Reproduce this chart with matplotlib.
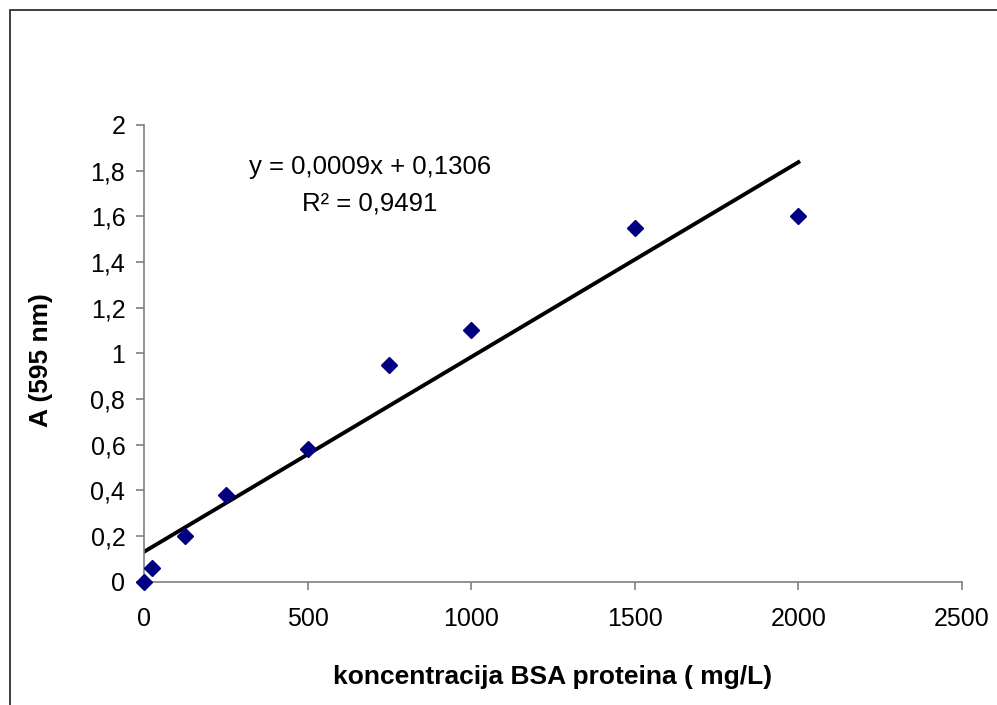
import numpy as np
import matplotlib
matplotlib.use('Agg')
import matplotlib.pyplot as plt
from matplotlib.patches import Rectangle

plt.rcParams['font.family'] = ['Liberation Sans', 'DejaVu Sans']

# BSA standard curve
konc = [0, 25, 125, 250, 500, 750, 1000, 1500, 2000]
apsorbancija = [0, 0.06, 0.2, 0.38, 0.58, 0.95, 1.1, 1.55, 1.6]

x_ticks = [0, 500, 1000, 1500, 2000, 2500]
x_tick_labels = ['0', '500', '1000', '1500', '2000', '2500']
y_ticks = [0, 0.2, 0.4, 0.6, 0.8, 1.0, 1.2, 1.4, 1.6, 1.8, 2.0]
y_tick_labels = ['0', '0,2', '0,4', '0,6', '0,8', '1', '1,2', '1,4', '1,6', '1,8', '2']

# linear trendline (as in Excel)
k, n = np.polyfit(konc, apsorbancija, 1)
x_fit = np.array([0, max(konc)])

W, H = 997, 705
fig = plt.figure(figsize=(W / 100, H / 100), dpi=100)
ax = fig.add_axes([144 / W, 1 - 581.5 / H, 818 / W, 456.5 / H])

ax.plot(x_fit, k * x_fit + n, color='black', lw=2.8, zorder=2)
ax.plot(konc, apsorbancija, linestyle='none', marker='D', ms=8.5,
        color='#000080', mec='#000080', zorder=3, clip_on=False)

ax.set_xlim(0, 2500)
ax.set_ylim(0, 2)
ax.set_xticks(x_ticks)
ax.set_xticklabels(x_tick_labels)
ax.set_yticks(y_ticks)
ax.set_yticklabels(y_tick_labels)

for s in ['top', 'right']:
    ax.spines[s].set_visible(False)
for s in ['left', 'bottom']:
    ax.spines[s].set_color('#808080')
    ax.spines[s].set_linewidth(1.2)

ax.tick_params(axis='both', direction='out', length=5.5, width=1.2,
               color='#808080', labelsize=18, labelcolor='black')
ax.tick_params(axis='x', pad=13)
ax.tick_params(axis='y', pad=8)

ax.set_xlabel('koncentracija BSA proteina ( mg/L)', fontsize=19, fontweight='bold', va='center')
ax.set_ylabel('A (595 nm)', fontsize=19, fontweight='bold', va='center')
ax.xaxis.set_label_coords(0.5, -0.209)
ax.yaxis.set_label_coords(-0.126, 0.485)

ax.text(690, 1.816, 'y = 0,0009x + 0,1306', fontsize=18.5, ha='center', va='center')
ax.text(690, 1.654, 'R² = 0,9491', fontsize=18.5, ha='center', va='center')

# chart area border (cropped on right and bottom)
fig.add_artist(Rectangle((10 / W, -0.2), 2, 1.2 - 10 / H, transform=fig.transFigure,
                         fill=False, ec='#303030', lw=1.3))

fig.savefig('out.png', dpi=100)
